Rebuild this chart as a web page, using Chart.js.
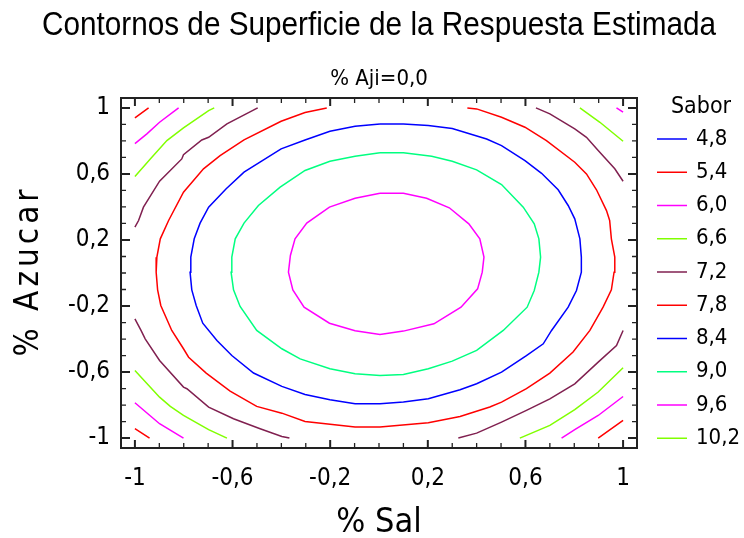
<!DOCTYPE html>
<html lang="es">
<head>
<meta charset="utf-8">
<title>Contornos de Superficie de la Respuesta Estimada</title>
<script src="https://cdn.jsdelivr.net/npm/chart.js@4.4.1/dist/chart.umd.min.js"></script>
<style>
  html, body { margin: 0; padding: 0; background: #fff; }
  canvas { display: block; }
</style>
</head>
<body>
<canvas id="contornos" width="744" height="538"></canvas>
<script>
const FUENTE = '"Liberation Sans Narrow", "DejaVu Sans Condensed", "Arial Narrow", sans-serif';
// el título se comprime al ancho de su caja (maxWidth)
const FUENTE_TITULO = '"Liberation Sans", Arial, sans-serif';

// niveles de Sabor (leyenda)
const niveles = ['4,8', '5,4', '6,0', '6,6', '7,2', '7,8', '8,4', '9,0', '9,6', '10,2'];
const colores = ['#0000ff', '#ff0000', '#ff00ff', '#80ff00', '#802050',
                 '#ff0000', '#0000ff', '#00ff80', '#ff00ff', '#80ff00'];

// ticks con etiqueta
const ticksSal = [-1, -0.6, -0.2, 0.2, 0.6, 1];
const ticksAzucar = [-1, -0.6, -0.2, 0.2, 0.6, 1];

// curvas de nivel: puntos [% Sal, % Azucar], null corta el tramo
const curva48 = [];
const curva54 = [
  [-0.944, 1.0], [-1, 0.939], null,
  [-1, -0.943], [-0.940, -1.0], null,
  [0.898, -1.0], [1, -0.893]
];
const curva60 = [
  [-0.821, 1.0], [-0.899, 0.913], [-0.951, 0.843], [-1, 0.784], null,
  [-1, -0.786], [-0.899, -0.913], [-0.801, -1.0], null,
  [0.973, 1.0], [1, 0.974], null,
  [1, -0.748], [0.898, -0.863], [0.802, -0.949], [0.748, -1.0]
];
const curva66 = [
  [-0.675, 1.0], [-0.698, 0.984], [-0.801, 0.879], [-0.869, 0.802], [-0.937, 0.691], [-1, 0.584], null,
  [-1, -0.590], [-0.899, -0.752], [-0.855, -0.808], [-0.801, -0.863], [-0.698, -0.949], [-0.623, -1.0], null,
  [0.823, 1.0], [0.905, 0.913], [1, 0.798], null,
  [1, -0.574], [0.898, -0.721], [0.802, -0.828], [0.700, -0.923], [0.577, -1.0]
];
const curva72 = [
  [-0.497, 1.0], [-0.623, 0.903], [-0.698, 0.822], [-0.726, 0.806], [-0.801, 0.717], [-0.808, 0.691],
  [-0.899, 0.556], [-0.965, 0.399], [-0.985, 0.318], [-1, 0.278], null,
  [-1, -0.278], [-0.975, -0.348], [-0.958, -0.399], [-0.899, -0.530], [-0.801, -0.691], [-0.787, -0.701],
  [-0.698, -0.812], [-0.596, -0.883], [-0.487, -0.943], [-0.398, -0.990], [-0.367, -1.0], null,
  [0.643, 1.0], [0.700, 0.964], [0.802, 0.873], [0.850, 0.822], [0.898, 0.742], [0.966, 0.631], [1, 0.556], null,
  [1, -0.348], [0.973, -0.439], [0.898, -0.540], [0.802, -0.671], [0.700, -0.762], [0.604, -0.832],
  [0.502, -0.903], [0.400, -0.970], [0.325, -1.0]
];
const curva78 = [
  [-0.214, 1.0], [-0.303, 0.972], [-0.401, 0.919], [-0.553, 0.806], [-0.651, 0.711], [-0.719, 0.631],
  [-0.801, 0.489], [-0.862, 0.318], [-0.896, 0.207], [-0.910, 0.096], [-0.913, 0.005], [-0.907, -0.102],
  [-0.894, -0.197], [-0.849, -0.348], [-0.801, -0.459], [-0.780, -0.510], [-0.708, -0.606], [-0.610, -0.715],
  [-0.501, -0.808], [-0.398, -0.849], [-0.303, -0.899], [-0.098, -0.933], [0.004, -0.933], [0.202, -0.907],
  [0.332, -0.869], [0.454, -0.812], [0.502, -0.782], [0.604, -0.701], [0.700, -0.606], [0.795, -0.479],
  [0.864, -0.348], [0.918, -0.207], [0.952, -0.102], [0.963, 0.005], [0.966, 0.096], [0.952, 0.207],
  [0.945, 0.318], [0.932, 0.378], [0.891, 0.504], [0.850, 0.600], [0.802, 0.671], [0.686, 0.802],
  [0.598, 0.883], [0.502, 0.943], [0.400, 0.994], [0.362, 1.0]
];
const curva84 = [
  [0.004, 0.903], [0.100, 0.903], [0.202, 0.893], [0.300, 0.875], [0.441, 0.812], [0.502, 0.772],
  [0.598, 0.681], [0.666, 0.604], [0.734, 0.504], [0.775, 0.409], [0.802, 0.328], [0.823, 0.207],
  [0.829, 0.096], [0.829, 0.005], [0.809, -0.106], [0.775, -0.207], [0.707, -0.348], [0.673, -0.429],
  [0.604, -0.500], [0.502, -0.600], [0.400, -0.671], [0.332, -0.707], [0.202, -0.762], [0.100, -0.782],
  [0.004, -0.792], [-0.098, -0.792], [-0.201, -0.768], [-0.303, -0.736], [-0.398, -0.687], [-0.514, -0.606],
  [-0.603, -0.500], [-0.664, -0.409], [-0.722, -0.304], [-0.749, -0.197], [-0.767, -0.102], [-0.774, 0.005],
  [-0.771, 0.096], [-0.757, 0.207], [-0.733, 0.302], [-0.698, 0.399], [-0.626, 0.510], [-0.553, 0.611],
  [-0.401, 0.752], [-0.303, 0.806], [-0.201, 0.859], [-0.098, 0.889], [0.004, 0.903]
];
const curva90 = [
  [0.004, 0.728], [0.100, 0.728], [0.216, 0.707], [0.300, 0.677], [0.400, 0.625], [0.502, 0.536],
  [0.591, 0.399], [0.636, 0.298], [0.655, 0.207], [0.662, 0.096], [0.655, 0.005], [0.636, -0.106],
  [0.607, -0.207], [0.509, -0.348], [0.400, -0.469], [0.300, -0.534], [0.202, -0.580], [0.100, -0.615],
  [0.004, -0.621], [-0.098, -0.610], [-0.201, -0.580], [-0.323, -0.520], [-0.398, -0.459], [-0.501, -0.348],
  [-0.569, -0.203], [-0.596, -0.102], [-0.606, 0.005], [-0.603, 0.096], [-0.589, 0.207], [-0.553, 0.302],
  [-0.494, 0.409], [-0.405, 0.520], [-0.303, 0.621], [-0.201, 0.677], [-0.098, 0.707], [0.004, 0.728]
];
const curva96 = [
  [0.004, 0.483], [0.100, 0.483], [0.195, 0.453], [0.288, 0.395], [0.368, 0.298], [0.413, 0.207],
  [0.430, 0.096], [0.423, 0.005], [0.404, -0.096], [0.336, -0.207], [0.225, -0.308], [0.100, -0.352],
  [0.004, -0.372], [-0.098, -0.350], [-0.203, -0.304], [-0.307, -0.207], [-0.353, -0.102], [-0.371, 0.005],
  [-0.363, 0.106], [-0.344, 0.207], [-0.296, 0.302], [-0.203, 0.399], [-0.098, 0.453], [0.004, 0.483]
];
const curva102 = [];

const curvas = [curva48, curva54, curva60, curva66, curva72, curva78, curva84, curva90, curva96, curva102];

const datasets = niveles.map((nivel, i) => ({
  label: nivel,
  data: curvas[i].map(p => p ? { x: p[0], y: p[1] } : { x: 0, y: null }),
  borderColor: colores[i],
  backgroundColor: colores[i],
  borderWidth: 1.5,
  pointRadius: 0,
  pointHoverRadius: 0,
  tension: 0,
  fill: false,
  spanGaps: false
}));

const conComa = v => String(v).replace('.', ',');

// marco del gráfico con marcas hacia adentro cada 0,1
const marco = {
  id: 'marco',
  afterDatasetsDraw(chart) {
    const { ctx, chartArea: a, scales: { x, y } } = chart;
    ctx.save();
    ctx.strokeStyle = '#222';
    for (let k = -10; k <= 10; k++) {
      const v = k / 10;
      const mayorX = ticksSal.some(t => Math.abs(t - v) < 1e-9);
      const mayorY = ticksAzucar.some(t => Math.abs(t - v) < 1e-9);
      const px = x.getPixelForValue(v);
      const py = y.getPixelForValue(v);
      let largo = mayorX ? 8 : 5;
      ctx.lineWidth = mayorX ? 2 : 1.3;
      ctx.beginPath();
      ctx.moveTo(px, a.top); ctx.lineTo(px, a.top + largo);
      ctx.moveTo(px, a.bottom); ctx.lineTo(px, a.bottom - largo);
      ctx.stroke();
      largo = mayorY ? 9 : 5;
      ctx.lineWidth = mayorY ? 2 : 1.3;
      ctx.beginPath();
      ctx.moveTo(a.left, py); ctx.lineTo(a.left + largo, py);
      ctx.moveTo(a.right, py); ctx.lineTo(a.right - largo, py);
      ctx.stroke();
    }
    ctx.lineWidth = 2;
    ctx.strokeRect(a.left, a.top, a.right - a.left, a.bottom - a.top);
    ctx.restore();
  }
};

// título del eje Y (espaciado) y leyenda de niveles
const textosExtra = {
  id: 'textosExtra',
  afterDraw(chart) {
    const { ctx, chartArea: a } = chart;
    ctx.save();
    ctx.fillStyle = '#000';
    ctx.translate(29, (a.top + a.bottom) / 2);
    ctx.rotate(-Math.PI / 2);
    ctx.font = '33px ' + FUENTE;
    ctx.letterSpacing = '4px';
    ctx.textAlign = 'center';
    ctx.textBaseline = 'middle';
    ctx.fillText('% Azucar', 2, 0);
    ctx.restore();

    ctx.save();
    ctx.fillStyle = '#000';
    ctx.font = '23px ' + FUENTE;
    ctx.textBaseline = 'middle';
    ctx.textAlign = 'center';
    ctx.fillText('Sabor', 701, 107);
    ctx.font = '22px ' + FUENTE;
    ctx.textAlign = 'left';
    chart.data.datasets.forEach((ds, i) => {
      const yy = 139 + i * 33.25;
      ctx.strokeStyle = ds.borderColor;
      ctx.lineWidth = 1.5;
      ctx.beginPath();
      ctx.moveTo(657, yy);
      ctx.lineTo(687, yy);
      ctx.stroke();
      ctx.fillText(ds.label, 696, yy);
    });
    ctx.restore();
  }
};

new Chart(document.getElementById('contornos'), {
  type: 'line',
  data: { datasets },
  options: {
    responsive: false,
    animation: false,
    events: [],
    layout: { padding: { left: 42, right: 28, top: 0, bottom: 0 } },
    plugins: {
      legend: { display: false },
      tooltip: { enabled: false },
      title: {
        display: true,
        text: 'Contornos de Superficie de la Respuesta Estimada',
        color: '#000',
        font: { family: FUENTE_TITULO, size: 34, weight: 'normal', lineHeight: 1 },
        padding: { top: 9, bottom: 0 }
      },
      subtitle: {
        display: true,
        text: '% Aji=0,0',
        color: '#000',
        font: { family: FUENTE, size: 22, weight: 'normal', lineHeight: 1 },
        padding: { top: 25, bottom: 8 }
      }
    },
    scales: {
      x: {
        type: 'linear',
        min: -1.057,
        max: 1.057,
        grid: { display: false, drawTicks: false },
        border: { display: false },
        afterBuildTicks: s => { s.ticks = ticksSal.map(v => ({ value: v })); },
        afterFit: s => { s.height = 90; },
        ticks: {
          color: '#000',
          autoSkip: false,
          maxRotation: 0,
          padding: 16,
          font: { family: FUENTE, size: 24 },
          callback: conComa
        },
        title: {
          display: true,
          text: '% Sal',
          color: '#000',
          font: { family: FUENTE, size: 34, lineHeight: 0.9 },
          padding: { top: 0, bottom: 0 }
        }
      },
      y: {
        type: 'linear',
        min: -1.06,
        max: 1.06,
        grid: { display: false, drawTicks: false },
        border: { display: false },
        afterBuildTicks: s => { s.ticks = ticksAzucar.map(v => ({ value: v })); },
        afterFit: s => { s.width = 79; },
        ticks: {
          color: '#000',
          autoSkip: false,
          padding: 11,
          font: { family: FUENTE, size: 24 },
          callback: conComa
        }
      },
      yDerecha: {
        type: 'linear',
        position: 'right',
        min: -1.06,
        max: 1.06,
        grid: { display: false, drawTicks: false },
        border: { display: false },
        ticks: { display: false },
        afterFit: s => { s.width = 79; }
      }
    }
  },
  plugins: [marco, textosExtra]
});
</script>
</body>
</html>
